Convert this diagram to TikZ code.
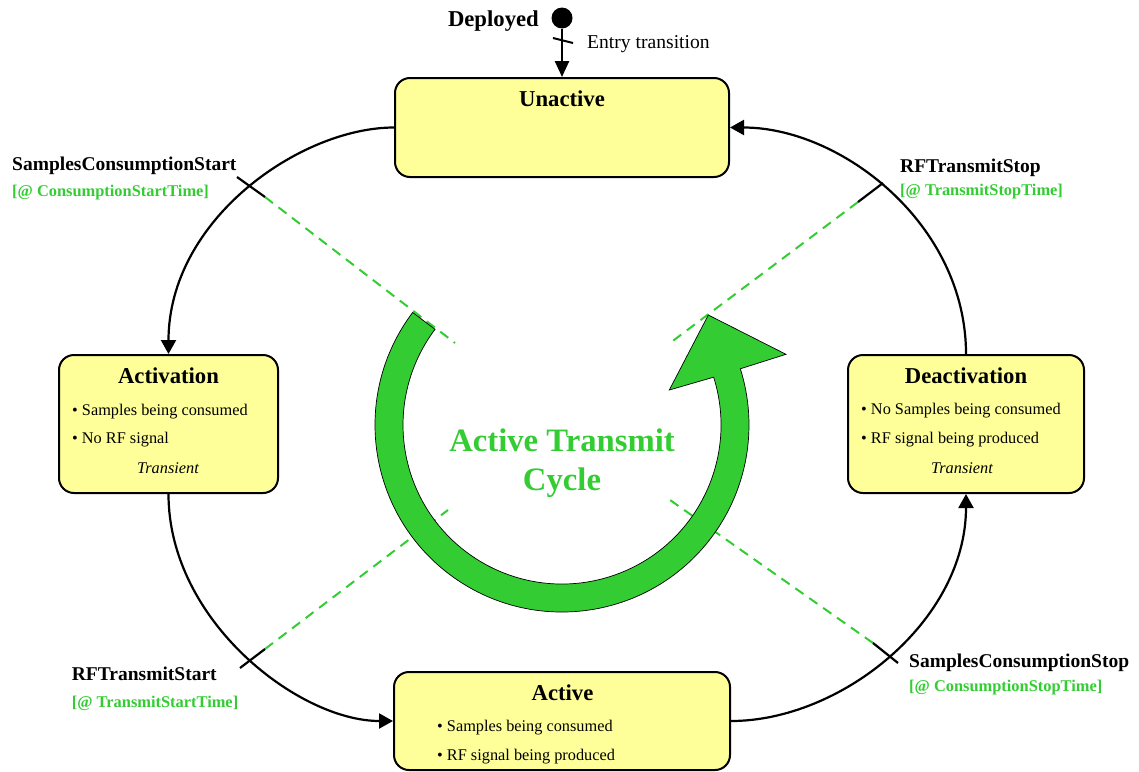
\documentclass[tikz,border=0pt]{standalone}
\usepackage{fontspec}
\setmainfont{Liberation Serif}
\usetikzlibrary{arrows.meta}
\definecolor{cgreen}{RGB}{51,204,51}
\definecolor{cyellow}{RGB}{255,255,153}
\begin{document}
\begin{tikzpicture}[x=1pt,y=-1pt,
  statebox/.style={draw=black, line width=2pt, fill=cyellow, rounded corners=15pt, inner sep=0pt},
  title/.style={font=\fontsize{22.7}{26}\selectfont\bfseries, inner sep=0pt, anchor=base},
  body/.style={font=\fontsize{16.3}{19}\selectfont, inner sep=0pt, anchor=base west},
  transient/.style={font=\fontsize{16.3}{19}\selectfont\itshape, inner sep=0pt, anchor=base},
  evt/.style={font=\fontsize{19.5}{22}\selectfont\bfseries, inner sep=0pt, anchor=base west},
  guard/.style={font=\fontsize{16.4}{19}\selectfont\bfseries, text=cgreen, inner sep=0pt, anchor=base west},
  conn/.style={line width=2.2pt, -{Triangle[length=14pt,width=15pt]}},
  cutmark/.style={line width=2.2pt},
  cutline/.style={draw=cgreen, line width=2pt, dash pattern=on 10pt off 7pt},
  bigtext/.style={font=\fontsize{32.7}{38}\selectfont\bfseries, text=cgreen, inner sep=0pt, anchor=base},
]
\useasboundingbox (0,0) rectangle (1139,771);

% cut coordinates
\coordinate (tla) at (237,177); \coordinate (tlb) at (265,197); \coordinate (tlc) at (455,343);
\coordinate (tra) at (883,183); \coordinate (trb) at (858,202); \coordinate (trc) at (670,343);
\coordinate (bla) at (240,668); \coordinate (blb) at (265,649); \coordinate (blc) at (448,510);
\coordinate (bra) at (898,663); \coordinate (brb) at (873,643); \coordinate (brc) at (670,500);

\draw[cutline] (tlb) -- (tlc);
\draw[cutline] (trb) -- (trc);
\draw[cutline] (blb) -- (blc);
\draw[cutline] (brb) -- (brc);

% big green cycle arrow
\coordinate (cc) at (562,425);
\coordinate (hb1) at (786,354.3);
\coordinate (htip) at (708.3,315);
\coordinate (hb2) at (669.3,390);
\draw[fill=cgreen, line width=0.7pt]
  ([shift={(217:187)}]cc) arc[start angle=217, end angle=-17.5, radius=187]
  -- (hb1) -- (htip) -- (hb2)
  -- ([shift={(-17.5:159)}]cc) arc[start angle=-17.5, end angle=217, radius=159] -- cycle;
\node[bigtext] (cyc1) at (562,451.7) {Active Transmit};
\node[bigtext] (cyc2) at (562,490) {Cycle};

% state boxes
\node[statebox, minimum width=334pt, minimum height=99pt] (unactive) at (562,127.5) {};
\node[statebox, minimum width=219pt, minimum height=138pt] (activation) at (168.5,424) {};
\node[statebox, minimum width=236pt, minimum height=138pt] (deactivation) at (966,424) {};
\node[statebox, minimum width=336pt, minimum height=98pt] (active) at (562,721) {};

% box texts
\node[title] (tU) at (562,106) {Unactive};

\node[title] (tA) at (168.5,383.3) {Activation};
\node[body] (a1) at (72,415) {• Samples being consumed};
\node[body] (a2) at (72,443.3) {• No RF signal};
\node[transient] (a3) at (168,473.3) {Transient};

\node[title] (tD) at (966,383.3) {Deactivation};
\node[body] (d1) at (861,414.3) {• No Samples being consumed};
\node[body] (d2) at (861,443.3) {• RF signal being produced};
\node[transient] (d3) at (962,473.3) {Transient};

\node[title] (tAc) at (562.5,700) {Active};
\node[body] (c1) at (437,731) {• Samples being consumed};
\node[body] (c2) at (437,760.7) {• RF signal being produced};

% connectors
\draw[conn] (unactive.west) .. controls +(-93,0) and +(0,-135) .. (activation.north);
\draw[conn] (activation.south) .. controls +(0,127) and +(-94,0) .. (active.west);
\draw[conn] (active.east) .. controls +(110,0) and +(0,127) .. (deactivation.south);
\draw[conn] (deactivation.north) .. controls +(0,-130) and +(111,0) .. (unactive.east);

% cut marks
\draw[cutmark] (tla) -- (tlb);
\draw[cutmark] (tra) -- (trb);
\draw[cutmark] (bla) -- (blb);
\draw[cutmark] (bra) -- (brb);

% event labels
\node[evt] (e1) at (12,170.7) {SamplesConsumptionStart};
\node[guard] (g1) at (12,196.7) {[@ ConsumptionStartTime]};
\node[evt] (e2) at (900,172.3) {RFTransmitStop};
\node[guard] (g2) at (900,195) {[@ TransmitStopTime]};
\node[evt] (e3) at (71.7,680) {RFTransmitStart};
\node[guard] (g3) at (71.7,707.3) {[@ TransmitStartTime]};
\node[evt] (e4) at (909,667.7) {SamplesConsumptionStop};
\node[guard] (g4) at (909,691) {[@ ConsumptionStopTime]};

% initial state
\node[circle, fill=black, minimum size=21pt, inner sep=0pt] (init) at (562,18) {};
\draw[line width=2.5pt, -{Triangle[length=16pt,width=14pt]}] (init) -- (unactive.north);
\coordinate (ea) at (553,38); \coordinate (eb) at (573,43);
\draw[line width=2pt] (ea) -- (eb);
\node[font=\fontsize{22.7}{26}\selectfont\bfseries, inner sep=0pt, anchor=base east] (dep) at (539,26.7) {Deployed};
\node[font=\fontsize{19.6}{22}\selectfont, inner sep=0pt, anchor=base west] (entry) at (587,48.3) {Entry transition};
\end{tikzpicture}
\end{document}
